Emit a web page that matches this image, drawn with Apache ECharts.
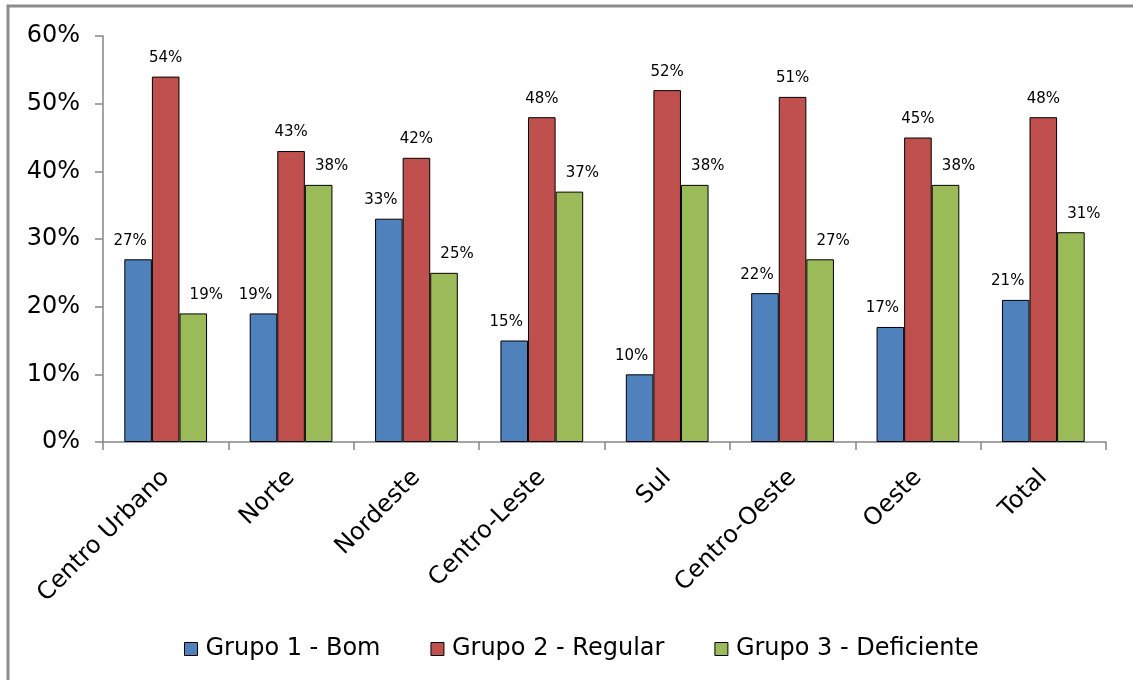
<!DOCTYPE html>
<html>
<head>
<meta charset="utf-8">
<script src="https://cdn.jsdelivr.net/npm/echarts@6/dist/echarts.min.js"></script>
<style>html,body{margin:0;padding:0;background:#fff}#c{width:1133px;height:680px}</style>
</head>
<body>
<div id="c"></div>
<script>
const categories = ['Centro Urbano','Norte','Nordeste','Centro-Leste','Sul','Centro-Oeste','Oeste','Total'];
const seriesNames = ['Grupo 1 - Bom','Grupo 2 - Regular','Grupo 3 - Deficiente'];
const bom = [27,19,33,15,10,22,17,21];
const regular = [54,43,42,48,52,51,45,48];
const deficiente = [19,38,25,37,38,27,38,31];
const colors = ['#4F81BD','#C0504D','#9BBB59'];
const labelOffsets = [[-8,0],[0,0],[13,0]];

const chart = echarts.init(document.getElementById('c'));
const font = 'DejaVu Sans, Liberation Sans, Arial, sans-serif';
function mk(i, data) {
  return {
    name: seriesNames[i], type: 'bar', data, barGap: '0%', barCategoryGap: '34%',
    itemStyle: { color: colors[i], borderColor: '#000', borderWidth: 1 },
    label: { show: true, position: 'top', distance: 11, offset: labelOffsets[i], formatter: '{c}%', fontSize: 15, color: '#000', fontFamily: font }
  };
}
chart.setOption({
  animation: false,
  graphic: [{ type: 'rect', shape: { x: 8, y: 6, width: 1200, height: 800 }, style: { fill: 'none', stroke: '#8c8c8c', lineWidth: 3 }, z: 100 }],
  grid: { left: 103, top: 36, right: 27, bottom: 238 },
  legend: {
    bottom: 14, left: 179, itemWidth: 13, itemHeight: 13, itemGap: 50, icon: 'rect',
    textStyle: { fontSize: 24, color: '#000', fontFamily: font, padding: [0,0,0,3] },
    data: seriesNames.map((n,i)=>({ name: n, itemStyle: { color: colors[i], borderColor: '#000', borderWidth: 1 } }))
  },
  xAxis: {
    type: 'category', data: categories,
    axisLine: { lineStyle: { color: '#868686', width: 1.5 } },
    axisTick: { show: true, length: 8, lineStyle: { color: '#868686', width: 1.5 } },
    axisLabel: { rotate: 45, fontSize: 24, color: '#000', fontFamily: font, margin: 32, interval: 0 }
  },
  yAxis: {
    type: 'value', min: 0, max: 60, interval: 10,
    axisLine: { show: true, lineStyle: { color: '#868686', width: 1.5 } },
    axisTick: { show: true, inside: false, length: 8, lineStyle: { color: '#868686', width: 1.5 } },
    splitLine: { show: false },
    axisLabel: { formatter: '{value}%', fontSize: 24, color: '#000', fontFamily: font, margin: 23 }
  },
  series: [mk(0, bom), mk(1, regular), mk(2, deficiente)]
});
</script>
</body>
</html>
